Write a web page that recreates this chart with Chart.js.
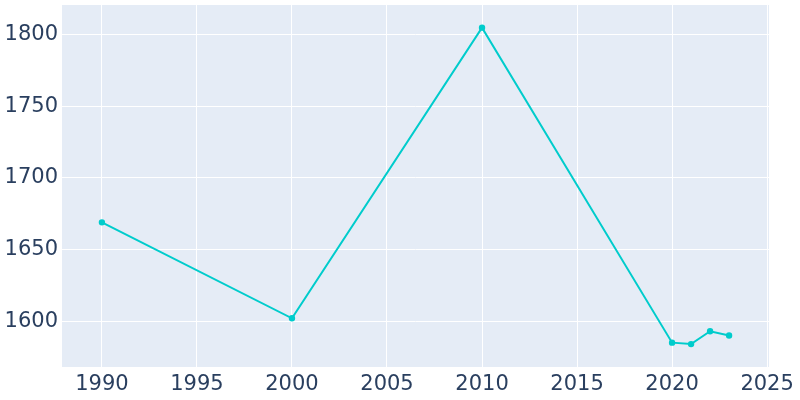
<!DOCTYPE html>
<html>
<head>
<meta charset="utf-8">
<script src="https://cdn.jsdelivr.net/npm/chart.js@4/dist/chart.umd.min.js"></script>
<style>
  html, body { margin: 0; padding: 0; background: #fff; }
  #wrap { width: 800px; height: 400px; }
</style>
</head>
<body>
<div id="wrap"><canvas id="chart"></canvas></div>
<script>
// ── Data ─────────────────────────────────────────────
const years  = [1990, 2000, 2010, 2020, 2021, 2022, 2023];
const values = [1669, 1602, 1805, 1585, 1584, 1593, 1590];
const xTicks = [1990, 1995, 2000, 2005, 2010, 2015, 2020, 2025];
const yTicks = [1600, 1650, 1700, 1750, 1800];

const lineColor = '#00cccc';
const textColor = '#2a3f5f';

// plot background
const bgPlugin = {
  id: 'plotBg',
  beforeDraw(chart) {
    const { ctx, chartArea: a } = chart;
    ctx.save();
    ctx.fillStyle = '#e5ecf6';
    ctx.fillRect(a.left, a.top, a.right - a.left, a.bottom - a.top);
    ctx.restore();
  }
};

new Chart(document.getElementById('chart'), {
  type: 'line',
  data: {
    datasets: [{
      data: years.map((y, i) => ({ x: y, y: values[i] })),
      borderColor: lineColor,
      backgroundColor: lineColor,
      borderWidth: 2,
      pointRadius: 2.2,
      pointHoverRadius: 3,
      tension: 0
    }]
  },
  options: {
    responsive: true,
    maintainAspectRatio: false,
    animation: false,
    layout: { padding: { top: 1, right: 31, left: 0, bottom: 0 } },
    plugins: { legend: { display: false }, tooltip: { enabled: false } },
    scales: {
      x: {
        type: 'linear',
        min: 1987.9,
        max: 2025.1,
        afterBuildTicks: s => { s.ticks = xTicks.map(v => ({ value: v })); },
        afterFit: s => { s.height = 33; s.paddingLeft = 0; s.paddingRight = 0; },
        grid: { color: '#ffffff', lineWidth: 1, drawTicks: false },
        border: { display: false },
        ticks: {
          color: textColor,
          font: { family: 'DejaVu Sans', size: 21 },
          padding: 5,
          maxRotation: 0,
          callback: v => String(v)
        }
      },
      y: {
        min: 1568,
        max: 1820.8,
        afterBuildTicks: s => { s.ticks = yTicks.map(v => ({ value: v })); },
        afterFit: s => { s.width = 62; s.paddingTop = 0; s.paddingBottom = 0; },
        grid: { color: '#ffffff', lineWidth: 1, drawTicks: false },
        border: { display: false },
        ticks: {
          color: textColor,
          font: { family: 'DejaVu Sans', size: 21 },
          padding: 4,
          callback: v => String(v)
        }
      }
    }
  },
  plugins: [bgPlugin]
});
</script>
</body>
</html>
